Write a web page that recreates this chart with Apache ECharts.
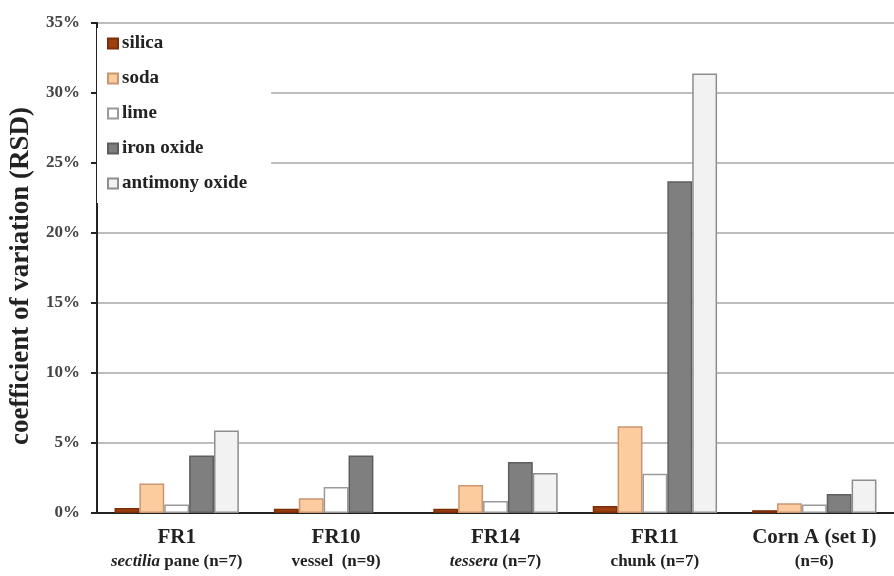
<!DOCTYPE html>
<html>
<head>
<meta charset="utf-8">
<script src="https://cdn.jsdelivr.net/npm/echarts@6/dist/echarts.min.js"></script>
<style>html,body{margin:0;padding:0;background:#fff;}#c{width:894px;height:576px;}</style>
</head>
<body>
<div id="c"></div>
<script>
const categories = ['FR1', 'FR10', 'FR14', 'FR11', 'Corn A (set I)'];
const subLabels = [['sectilia', ' pane (n=7)'], ['', 'vessel  (n=9)'], ['tessera', ' (n=7)'], ['', 'chunk (n=7)'], ['', '(n=6)']];
const seriesNames = ['silica', 'soda', 'lime', 'iron oxide', 'antimony oxide'];
const silica = [0.35, 0.3, 0.3, 0.5, 0.2];
const soda = [2.1, 1.05, 2.0, 6.2, 0.7];
const lime = [0.6, 1.85, 0.85, 2.8, 0.6];
const ironOxide = [4.1, 4.1, 3.65, 23.7, 1.35];
const antimonyOxide = [5.9, null, 2.85, 31.4, 2.4];
const yTicks = [0, 5, 10, 15, 20, 25, 30, 35];

const FONT = '"Liberation Serif", "DejaVu Serif", serif';
const styles = [
  {color: '#9E3F0F', borderColor: '#7a2f08'},
  {color: '#FCCB9E', borderColor: '#c99670'},
  {color: '#FFFFFF', borderColor: '#9a9a9a'},
  {color: '#7F7F7F', borderColor: '#5e5e5e'},
  {color: '#F2F2F2', borderColor: '#8e8e8e'}
];
const values = [silica, soda, lime, ironOxide, antimonyOxide];

const chart = echarts.init(document.getElementById('c'), null, {renderer: 'canvas'});
chart.setOption({
  animation: false,
  backgroundColor: '#fff',
  grid: {left: 95, right: 0, top: 23, bottom: 63, containLabel: false},
  legend: {
    orient: 'vertical',
    left: 97, top: 28,
    padding: [6, 24, 10, 10],
    backgroundColor: '#fff',
    itemGap: 16,
    itemWidth: 10, itemHeight: 10,
    icon: 'rect',
    textStyle: {fontFamily: FONT, fontWeight: 'bold', fontSize: 19, color: '#222', padding: [0, 0, 0, -1]},
    data: seriesNames
  },
  xAxis: {
    type: 'category',
    data: categories,
    axisLine: {lineStyle: {color: '#222', width: 2}},
    axisTick: {show: false},
    axisLabel: {
      interval: 0,
      margin: 12,
      formatter: function (v, i) {
        const s = subLabels[i];
        let line2 = (s[0] ? '{i|' + s[0] + '}' : '') + '{b|' + s[1] + '}';
        return '{a|' + v + '}\n' + line2;
      },
      rich: {
        a: {fontFamily: FONT, fontWeight: 'bold', fontSize: 21, color: '#222', lineHeight: 26},
        b: {fontFamily: FONT, fontWeight: 'bold', fontSize: 17, color: '#222', lineHeight: 22},
        i: {fontFamily: FONT, fontWeight: 'bold', fontStyle: 'italic', fontSize: 17, color: '#222', lineHeight: 22}
      }
    }
  },
  yAxis: {
    type: 'value',
    min: yTicks[0], max: yTicks[yTicks.length - 1], interval: 5,
    name: 'coefficient of variation (RSD)',
    nameLocation: 'middle',
    nameGap: 62,
    nameTextStyle: {fontFamily: FONT, fontWeight: 'bold', fontSize: 27, color: '#222', padding: [0, 16, 0, 0]},
    axisLine: {show: true, lineStyle: {color: '#222', width: 2}},
    axisTick: {show: true, length: 6, lineStyle: {color: '#222', width: 2}},
    axisLabel: {formatter: '{value}%', margin: 17, fontFamily: FONT, fontWeight: 'bold', fontSize: 17, color: '#444'},
    splitLine: {lineStyle: {color: '#bdbdbd', width: 2}}
  },
  series: seriesNames.map((n, k) => ({
    name: n,
    type: 'bar',
    data: values[k],
    barGap: '0%',
    barCategoryGap: '22%',
    itemStyle: {color: styles[k].color, borderColor: styles[k].borderColor, borderWidth: 1.5}
  }))
});
</script>
</body>
</html>
